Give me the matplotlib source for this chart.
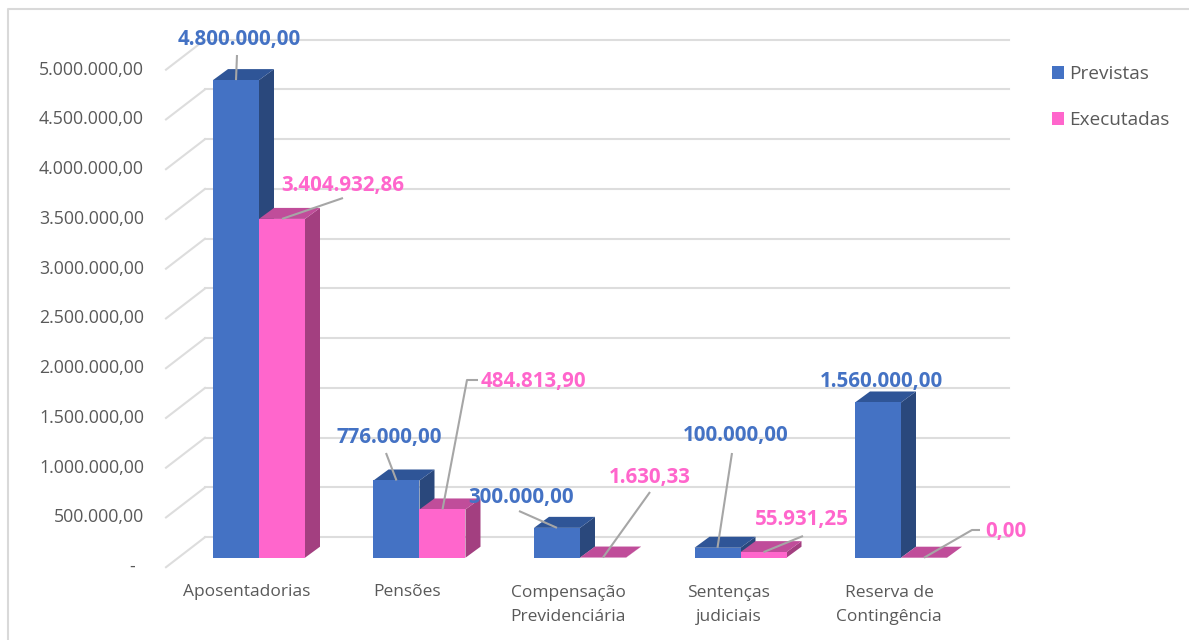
import matplotlib

matplotlib.use("Agg")
import matplotlib.pyplot as plt
from matplotlib.patches import Polygon

plt.rcParams["font.family"] = ["Open Sans", "DejaVu Sans"]

categories = ["Aposentadorias", "Pensões", "Compensação\nPrevidenciária", "Sentenças\njudiciais", "Reserva de\nContingência"]
previstas = [4800000.00, 776000.00, 300000.00, 100000.00, 1560000.00]
executadas = [3404932.86, 484813.90, 1630.33, 55931.25, 0.00]
previstas_labels = ["4.800.000,00", "776.000,00", "300.000,00", "100.000,00", "1.560.000,00"]
executadas_labels = ["3.404.932,86", "484.813,90", "1.630,33", "55.931,25", "0,00"]
y_ticks = [0, 500000, 1000000, 1500000, 2000000, 2500000, 3000000, 3500000, 4000000, 4500000, 5000000]
y_tick_labels = ["-", "500.000,00", "1.000.000,00", "1.500.000,00", "2.000.000,00", "2.500.000,00",
                 "3.000.000,00", "3.500.000,00", "4.000.000,00", "4.500.000,00", "5.000.000,00"]

W, H = 1189, 640
X0, X_STEP = 259.0, 160.5  # pixel of first category, pixels per category
Y0, Y_SCALE = 557.7, 99.5e-6  # pixel of the floor, pixels per unit

BLUE = ("#4472C4", "#2F5597", "#2A487C")
PINK = ("#FF66CC", "#C04D9A", "#A33F80")
BAR_W = 46 / X_STEP
DEPTH_X = 15 / X_STEP
DEPTH_Y = 11 / Y_SCALE


def px_x(x):
    return (x - X0) / X_STEP


def px_y(y):
    return (Y0 - y) / Y_SCALE


def draw_bar(ax, x, v, colors):
    left, right = x, x + BAR_W
    ax.add_patch(Polygon([(right, 0), (right + DEPTH_X, DEPTH_Y), (right + DEPTH_X, v + DEPTH_Y), (right, v)],
                         facecolor=colors[2], edgecolor="none"))
    ax.add_patch(Polygon([(left, v), (left + DEPTH_X, v + DEPTH_Y), (right + DEPTH_X, v + DEPTH_Y), (right, v)],
                         facecolor=colors[1], edgecolor="none"))
    ax.bar(left, v, BAR_W, align="edge", color=colors[0], linewidth=0)


def leader(ax, points, x, v):
    # points are the pixel positions of the free end, the last one joins the bar
    pts = [(px_x(a), px_y(b)) for a, b in points] + [(x, v)]
    ax.plot([p[0] for p in pts], [p[1] for p in pts], color="#A6A6A6", lw=1.5, solid_capstyle="butt", zorder=5)


fig = plt.figure(figsize=(W / 100, H / 100), dpi=100)
ax = fig.add_axes([0, 0, 1, 1])
ax.set_xlim(px_x(0), px_x(W))
ax.set_ylim(px_y(H), px_y(0))
ax.axis("off")

# outer frame of the pasted chart
ax.plot([px_x(8), px_x(8), px_x(W)], [px_y(H), px_y(9), px_y(9)], color="#D9D9D9", lw=1.5, clip_on=False)

# back wall grid and side wall
WALL_Y = 20.5 / Y_SCALE
FRONT_Y = -9.5 / Y_SCALE
for v, lab in zip(y_ticks, y_tick_labels):
    ax.plot([px_x(205), px_x(1009)], [v + WALL_Y, v + WALL_Y], color="#DDDDDD", lw=1.5, zorder=1)
    ax.plot([px_x(166), px_x(205)], [v + FRONT_Y, v + WALL_Y], color="#DDDDDD", lw=1.5, zorder=1)
    right = 135 if lab == "-" else 144
    ax.text(px_x(right), v + FRONT_Y, lab, ha="right", va="center", fontsize=12.8, color="#595959")

for i, (p, e) in enumerate(zip(previstas, executadas)):
    draw_bar(ax, i - BAR_W, p, BLUE)
    draw_bar(ax, i, e, PINK)

# label centres, in pixels
prev_pos = [(239, 40), (389, 438), (521, 498), (736, 436), (881, 381)]
exec_pos = [(343, 185), (533, 381), (650, 477), (802, 520), (1006, 531)]
prev_lead = [[(237, 55)], [(386, 453)], [(519, 511)], [(732, 453)], None]
exec_lead = [[(343, 198)], [(478, 380), (467, 380)], [(650, 492)], [(803, 536)], [(980, 530), (972, 530)]]

for i in range(len(categories)):
    ax.text(i - 12 / X_STEP, px_y(592 if "\n" not in categories[i] else 605), categories[i], ha="center", va="center",
            fontsize=12.5, color="#595959", linespacing=1.68)
    if prev_lead[i]:
        leader(ax, prev_lead[i], i - BAR_W / 2, previstas[i])
    if exec_lead[i]:
        leader(ax, exec_lead[i], i + BAR_W / 2, executadas[i])
    ax.text(px_x(prev_pos[i][0]), px_y(prev_pos[i][1]), previstas_labels[i], ha="center", va="center",
            fontsize=14.8, fontweight="bold", color=BLUE[0], zorder=6)
    ax.text(px_x(exec_pos[i][0]), px_y(exec_pos[i][1]), executadas_labels[i], ha="center", va="center",
            fontsize=14.8, fontweight="bold", color=PINK[0], zorder=6)

handles = [Polygon([(0, 0)], facecolor=BLUE[0], label="Previstas"), Polygon([(0, 0)], facecolor=PINK[0], label="Executadas")]
ax.legend(handles=handles, loc="upper left", bbox_to_anchor=(1035 / W, 1 - 48 / H), frameon=False, fontsize=13.7,
          labelcolor="#595959", handlelength=0.65, handleheight=0.65, handletextpad=0.24, labelspacing=1.47, borderpad=0.4)

fig.savefig("out.png", dpi=100)
plt.close(fig)
